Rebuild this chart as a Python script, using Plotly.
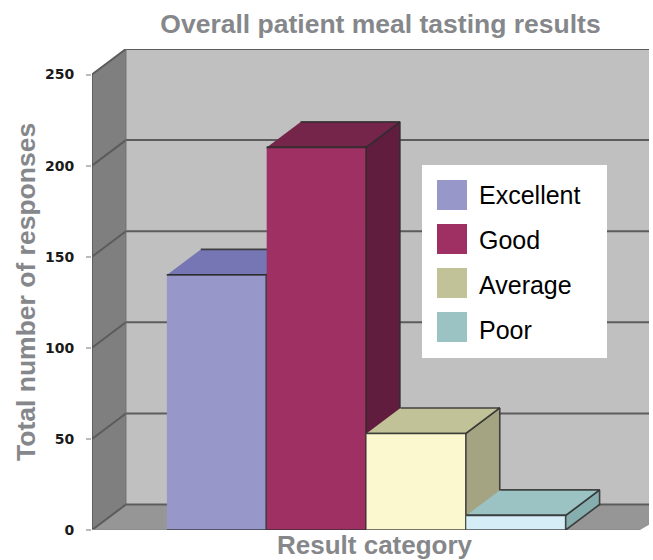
import plotly.graph_objects as go

# Survey results
categories = ["Excellent", "Good", "Average", "Poor"]
responses = [140, 210, 53, 8]
y_ticks = [0, 50, 100, 150, 200, 250]

# Face colours per category
front_colors = ["#9797ca", "#9e3063", "#fbf8d0", "#d4edf6"]
top_colors = ["#7676b4", "#742549", "#c2c299", "#9cc3c3"]
side_colors = ["#5e5e90", "#611d3d", "#a4a482", "#87aeae"]
swatch_colors = ["#9797ca", "#9e3063", "#c2c299", "#9cc3c3"]

# Pseudo-3D depth, in axis units
DEPTH_X = 0.34
DEPTH_Y = 14
BAR_W = 0.995
X_LEFT = -1.25
X_FRONT_RIGHT = 4.24
X_RIGHT = 4.33
Y_TOP = max(y_ticks) + DEPTH_Y

# Plot area in page pixels, used to place the key and captions
PLOT_L, PLOT_T, PLOT_R, PLOT_B = 92, 49, 649, 530
PLOT_W = PLOT_R - PLOT_L
PLOT_H = PLOT_B - PLOT_T

EDGE = "rgba(45,45,45,0.85)"
GRID = "#5c5c5c"
TITLE_GREY = "#85878a"
FONT = "Liberation Sans, Arial, sans-serif"

fig = go.Figure()


def px_x(px):
    return (px - PLOT_L) / PLOT_W


def px_y(px):
    return (PLOT_B - px) / PLOT_H


def face(xs, ys, fill, line=None, width=1.6):
    fig.add_trace(go.Scatter(
        x=xs, y=ys, mode="lines", fill="toself", fillcolor=fill,
        line=dict(color=line or fill, width=width if line else 0),
        showlegend=False, hoverinfo="skip",
    ))


def stroke(xs, ys, color, width):
    fig.add_trace(go.Scatter(
        x=xs, y=ys, mode="lines", line=dict(color=color, width=width),
        showlegend=False, hoverinfo="skip",
    ))


# Chart box: back wall, left wall and floor
face([X_LEFT + DEPTH_X, X_RIGHT, X_RIGHT, X_LEFT + DEPTH_X],
     [DEPTH_Y, DEPTH_Y, Y_TOP, Y_TOP], "#c0c0c0")
face([X_LEFT, X_LEFT + DEPTH_X, X_LEFT + DEPTH_X, X_LEFT],
     [0, DEPTH_Y, Y_TOP, max(y_ticks)], "#7f7f7f")
face([X_LEFT, X_LEFT + DEPTH_X, X_RIGHT + DEPTH_X, X_FRONT_RIGHT],
     [0, DEPTH_Y, DEPTH_Y, 0], "#969696")

# Gridlines wrap from the left wall onto the back wall
for tick in y_ticks:
    stroke([X_LEFT, X_LEFT + DEPTH_X, X_RIGHT],
           [tick, tick + DEPTH_Y, tick + DEPTH_Y], GRID, 2)

# Wall and floor edges
stroke([X_LEFT, X_LEFT], [0, max(y_ticks)], "#555555", 1.5)
stroke([X_LEFT + DEPTH_X, X_LEFT + DEPTH_X], [DEPTH_Y, Y_TOP], "#6e6e6e", 1)
stroke([X_LEFT, X_FRONT_RIGHT], [0, 0], "#8a8a8a", 1.5)

# Bars, painted left to right so nearer faces cover farther ones
for i, (value, front, top, side) in enumerate(
        zip(responses, front_colors, top_colors, side_colors)):
    x0 = i - 0.5
    x1 = x0 + BAR_W
    face([x1, x1 + DEPTH_X, x1 + DEPTH_X, x1],
         [0, DEPTH_Y, value + DEPTH_Y, value], side, EDGE)
    face([x0, x1, x1 + DEPTH_X, x0 + DEPTH_X],
         [value, value, value + DEPTH_Y, value + DEPTH_Y], top, EDGE)
    face([x0, x1, x1, x0], [0, 0, value, value], front, EDGE)

shapes = [dict(type="rect", xref="paper", yref="paper", layer="above",
               x0=px_x(422), x1=px_x(607), y0=px_y(358), y1=px_y(165),
               fillcolor="white", line=dict(width=0))]
annotations = []

# Key in the upper right of the chart
for i, (name, color) in enumerate(zip(categories, swatch_colors)):
    top_px = 180 + 44 * i
    shapes.append(dict(type="rect", xref="paper", yref="paper", layer="above",
                       x0=px_x(437), x1=px_x(467),
                       y0=px_y(top_px + 30), y1=px_y(top_px),
                       fillcolor=color, line=dict(width=0)))
    annotations.append(dict(text=name, xref="paper", yref="paper",
                            x=px_x(477), y=px_y(194.5 + 45.2 * i),
                            xanchor="left", yanchor="middle", showarrow=False,
                            font=dict(family=FONT, size=25, color="#000000")))

# Axis captions
annotations.append(dict(text="<b>Result category</b>", xref="paper", yref="paper",
                        x=px_x(375), y=px_y(544.5),
                        xanchor="center", yanchor="middle", showarrow=False,
                        font=dict(family=FONT, size=26, color=TITLE_GREY)))
annotations.append(dict(text="<b>Total number of responses</b>", xref="paper", yref="paper",
                        x=px_x(26), y=px_y(292), textangle=-90,
                        xanchor="center", yanchor="middle", showarrow=False,
                        font=dict(family=FONT, size=26.5, color=TITLE_GREY)))

fig.update_layout(
    width=653, height=560,
    margin=dict(l=PLOT_L, r=653 - PLOT_R, t=PLOT_T, b=560 - PLOT_B, pad=0),
    paper_bgcolor="white", plot_bgcolor="white",
    showlegend=False,
    title=dict(text="<b>Overall patient meal tasting results</b>",
               x=380.5 / 653, xanchor="center", y=1 - 24 / 560, yanchor="middle",
               font=dict(family=FONT, size=26.5, color=TITLE_GREY)),
    xaxis=dict(range=[X_LEFT, X_RIGHT], showgrid=False, zeroline=False,
               showticklabels=False, ticks=""),
    yaxis=dict(range=[0, Y_TOP], tickvals=y_ticks, showgrid=False, zeroline=False,
               ticks="outside", ticklen=5, tickcolor="#bbbbbb", tickwidth=1.5,
               ticklabelstandoff=9,
               tickfont=dict(family="DejaVu Sans, sans-serif", size=14, color="#1a1a1a", weight="bold")),
    shapes=shapes,
    annotations=annotations,
)

fig.write_html("out.html")
